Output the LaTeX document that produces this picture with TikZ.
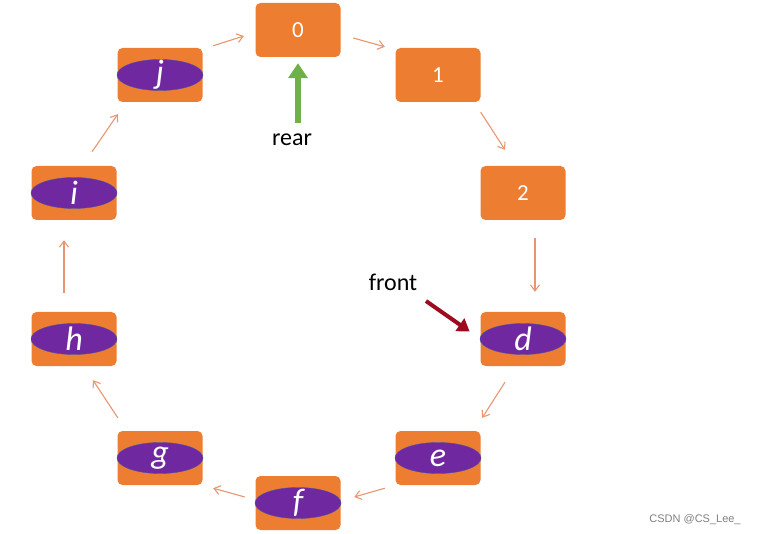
\documentclass[tikz,border=0pt]{standalone}
\usepackage{fontspec}
\setmainfont{Carlito}
\newfontfamily\wmfont{Liberation Sans}
\usetikzlibrary{positioning,arrows.meta,shapes.geometric}
\definecolor{boxorange}{RGB}{237,125,49}
\definecolor{linkorange}{RGB}{232,150,112}
\definecolor{slotpurple}{RGB}{112,40,160}
\definecolor{slotedge}{RGB}{70,80,170}
\definecolor{reargreen}{RGB}{112,176,72}
\definecolor{frontred}{RGB}{160,10,30}

\begin{document}
\begin{tikzpicture}[x=1pt, y=-1pt,
    qbox/.style={fill=boxorange, rounded corners=5pt, minimum width=85pt, minimum height=54pt, inner sep=0pt},
    num/.style={text=white, font=\fontsize{23}{23}\selectfont},
    slot/.style={ellipse, draw=slotedge, fill=slotpurple, minimum width=86pt, minimum height=31pt, inner sep=0pt},
    letter/.style={text=white, inner sep=0pt, font=\fontsize{34}{34}\selectfont\itshape},
    link/.style={-{Straight Barb[length=6pt, width=9pt]}, linkorange, line width=1.1pt},
    every node/.style={font=\fontsize{24}{24}\selectfont},
]
\useasboundingbox (0,0) rectangle (773,534);

% === queue slots ===
\node[qbox, num] (s0) at (298,30) {0};
\node[qbox, num] (s1) at (438,75) {1};
\node[qbox, num] (s2) at (523,193) {2};
\node[qbox] (sd) at (523,339) {};
\node[qbox] (se) at (438,458) {};
\node[qbox] (sf) at (298,503) {};
\node[qbox] (sg) at (160,458) {};
\node[qbox] (sh) at (74,339) {};
\node[qbox] (si) at (74,193) {};
\node[qbox] (sj) at (160,75) {};

% stored elements
\node[slot, label={[letter]center:d}] (vd) at (sd) {};
\node[slot, label={[letter]center:e}] (ve) at (se) {};
\node[slot, label={[letter]center:f}] (vf) at (sf) {};
\node[slot, label={[letter]center:g}] (vg) at (sg) {};
\node[slot, label={[letter]center:h}] (vh) at (sh) {};
\node[slot, label={[letter]center:i}] (vi) at (si) {};
\node[slot, label={[letter]center:j}] (vj) at (sj) {};

% === circular links ===
\draw[link] ([shift={(10.5,-2)}]sj.north east) -- ([shift={(-11.5,6)}]s0.west);
\draw[link] ([shift={(12.5,8)}]s0.east) -- ([shift={(-10.5,-1)}]s1.north west);
\draw[link] ([shift={(0,10)}]s1.south east) -- ([shift={(-18,-16)}]s2.north);
\draw[link] ([shift={(12,18)}]s2.south) -- ([shift={(12,-20)}]sd.north);
\draw[link] ([shift={(-18,16)}]sd.south) -- ([shift={(1.5,-13)}]se.north east);
\draw[link] ([shift={(-10.5,3)}]se.south west) -- ([shift={(13.5,-6)}]sf.east);
\draw[link] ([shift={(-10.5,-6)}]sf.west) -- ([shift={(10.5,3)}]sg.south east);
\draw[link] ([shift={(0.5,-13)}]sg.north west) -- ([shift={(19,14)}]sh.south);
\draw[link] ([shift={(-10,-19)}]sh.north) -- ([shift={(-10,20)}]si.south);
\draw[link] ([shift={(18,-14)}]si.north) -- ([shift={(0.5,12)}]sj.south west);

% === pointers ===
\node (rear) at (292,140) {rear};
\draw[-{Triangle[length=15pt, width=19pt]}, reargreen, line width=5.5pt, shorten <=8pt, shorten >=6pt] (rear.north -| s0) -- (s0.south);

\node (front) at (393,282) {front};
\coordinate (ftail) at (426,301);
\draw[-{Triangle[length=12pt, width=15pt]}, frontred, line width=4pt, shorten >=13pt] (ftail) -- (sd.west);

% watermark
\node[font=\wmfont\fontsize{11}{11}\selectfont, gray] (mark) at (695,520) {CSDN @CS\_Lee\_};
\end{tikzpicture}
\end{document}
